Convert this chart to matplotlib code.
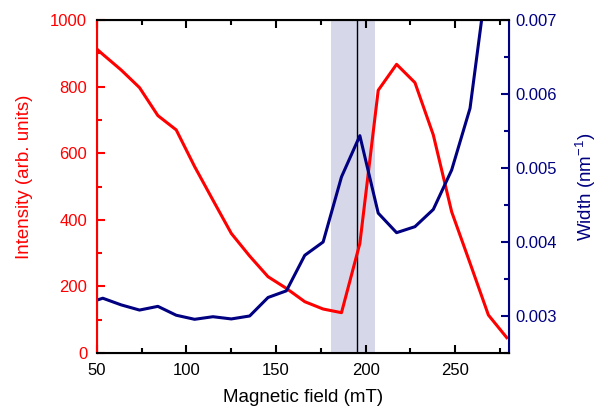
import matplotlib

matplotlib.use("Agg")
import matplotlib.pyplot as plt
from matplotlib.ticker import MultipleLocator

plt.rcParams["font.family"] = ["Liberation Sans", "DejaVu Sans"]
plt.rcParams["mathtext.fontset"] = "custom"
plt.rcParams["mathtext.rm"] = "Liberation Sans"

# magnetic field (mT)
field = [43.05, 53.3, 63.55, 73.8, 84.05, 94.3, 104.55, 114.8, 125.05, 135.3,
         145.55, 155.8, 166.05, 176.3, 186.55, 196.8, 207.05, 217.3, 227.55,
         237.8, 248.05, 258.3, 268.55, 278.8]
# intensity (arb. units)
intensity = [946, 897, 850, 797, 713, 670, 560, 459, 359, 291,
             229, 194, 154, 132, 121, 329, 789, 867, 812, 655,
             424, 270, 114, 46]
# width (nm^-1)
width = [0.00316, 0.00324, 0.00315, 0.00308, 0.00313, 0.00301, 0.002955, 0.00299,
         0.00296, 0.00300, 0.00325, 0.00334, 0.00382, 0.00400, 0.00488, 0.005437,
         0.00439, 0.004126, 0.004207, 0.00444, 0.004973, 0.005807, 0.0077, 0.0085]

band = (180.6, 205.0)
marker_field = 195.0

RED = "#ff0000"
NAVY = "#000080"

fig = plt.figure(figsize=(5.98, 4.09), dpi=100)
ax = fig.add_axes([0.162, 0.137, 0.689, 0.814])
ax2 = ax.twinx()

ax.axvspan(band[0], band[1], color="#d6d8ea", lw=0, zorder=0)
ax.axvline(marker_field, color="black", lw=1.0, zorder=1)
ax.plot(field, intensity, color=RED, lw=2.2, zorder=2)
ax2.plot(field, width, color=NAVY, lw=2.2)

ax.set_xlim(50, 280)
ax.set_ylim(0, 1000)
ax2.set_ylim(0.0025, 0.007)

ax.xaxis.set_major_locator(MultipleLocator(50))
ax.xaxis.set_minor_locator(MultipleLocator(25))
ax.yaxis.set_major_locator(MultipleLocator(200))
ax.yaxis.set_minor_locator(MultipleLocator(100))
ax2.yaxis.set_major_locator(MultipleLocator(0.001))
ax2.yaxis.set_minor_locator(MultipleLocator(0.0005))

ax.tick_params(axis="x", which="both", direction="in", top=True, labelsize=12,
               width=1.5, colors="black", pad=7.5)
ax.tick_params(axis="x", which="major", length=6)
ax.tick_params(axis="x", which="minor", length=3.5)
ax.tick_params(axis="y", which="both", direction="in", labelsize=12,
               width=1.5, colors=RED, pad=7)
ax.tick_params(axis="y", which="major", length=6)
ax.tick_params(axis="y", which="minor", length=3.5)
ax2.tick_params(axis="y", which="both", direction="in", labelsize=12,
                width=1.5, colors=NAVY, pad=5)
ax2.tick_params(axis="y", which="major", length=6)
ax2.tick_params(axis="y", which="minor", length=3.5)

for side in ("top", "bottom"):
    ax2.spines[side].set_linewidth(1.5)
ax2.spines["left"].set_color(RED)
ax2.spines["left"].set_linewidth(1.5)
ax2.spines["right"].set_color(NAVY)
ax2.spines["right"].set_linewidth(1.5)

ax.set_xlabel("Magnetic field (mT)", fontsize=13.5)
ax.set_ylabel("Intensity (arb. units)", fontsize=13.5, color=RED)
ax2.set_ylabel("Width (nm$^{-1}$)", fontsize=13.5, color=NAVY)
ax.xaxis.set_label_coords(0.5, -0.108)
ax.yaxis.set_label_coords(-0.155, 0.53)
ax2.yaxis.set_label_coords(1.155, 0.5)

fig.savefig("out.png", dpi=100)
